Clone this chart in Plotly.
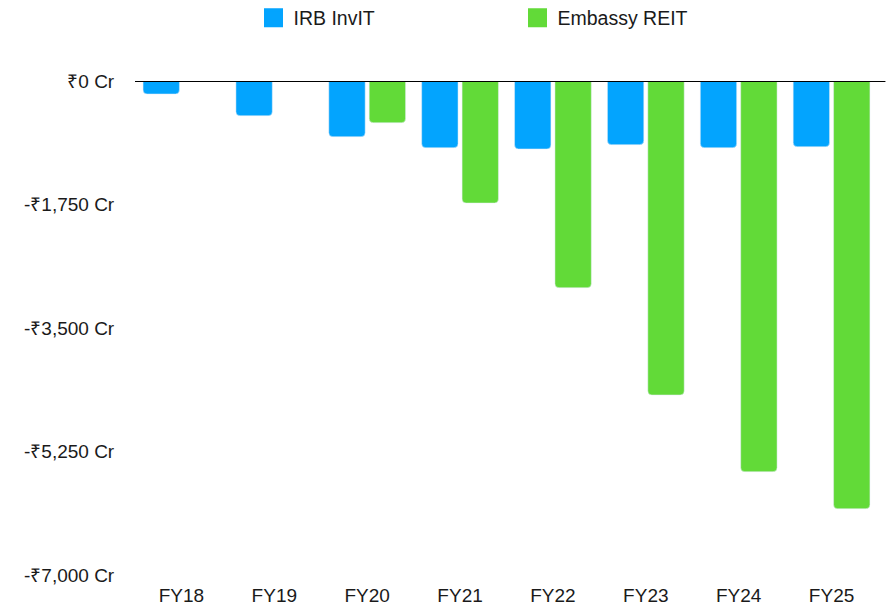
import plotly.graph_objects as go

categories = ["FY18", "FY19", "FY20", "FY21", "FY22", "FY23", "FY24", "FY25"]
irb_invit = [-184, -492, -789, -945, -963, -902, -945, -931]
embassy_reit = [None, None, -591, -1729, -2929, -4449, -5536, -6061]
tick_vals = [0, -1750, -3500, -5250, -7000]
tick_text = ["₹0 Cr", "-₹1,750 Cr", "-₹3,500 Cr", "-₹5,250 Cr", "-₹7,000 Cr"]

BLUE = "#03a4fe"
GREEN = "#62da38"
FONT = "Liberation Sans"
TXT = "#1a1a1a"

W, H = 888, 604

fig = go.Figure()
fig.add_trace(go.Bar(x=categories, y=irb_invit, name="IRB InvIT",
                     marker=dict(color=BLUE, cornerradius=4), showlegend=False))
fig.add_trace(go.Bar(x=categories, y=embassy_reit, name="Embassy REIT",
                     marker=dict(color=GREEN, cornerradius=4), showlegend=False))
# legend entries with large square swatches
fig.add_trace(go.Scatter(x=[None], y=[None], mode="markers", name="IRB InvIT",
                         marker=dict(symbol="square", size=30, color=BLUE,
                                     line=dict(color=BLUE, width=3))))
fig.add_trace(go.Scatter(x=[None], y=[None], mode="markers", name="Embassy REIT",
                         marker=dict(symbol="square", size=30, color=GREEN,
                                     line=dict(color=GREEN, width=3))))

fig.add_shape(type="line", xref="paper", yref="y", x0=0, x1=1.01, y0=0, y1=0,
              line=dict(color="black", width=2))

fig.update_layout(
    width=W, height=H,
    margin=dict(l=126.5, r=17.5, t=73, b=37, autoexpand=False),
    paper_bgcolor="white", plot_bgcolor="white",
    font=dict(family=FONT, size=19, color=TXT),
    barmode="group", bargap=0.13, bargroupgap=0.1,
    showlegend=True,
    legend=dict(orientation="h", x=0.1595, xanchor="left",
                yref="container", y=1 - 10 / H, yanchor="middle",
                entrywidth=219, entrywidthmode="pixels",
                font=dict(family=FONT, size=19.5, color=TXT),
                itemsizing="trace"),
    xaxis=dict(showgrid=False, showline=False, zeroline=False, ticks="outside",
               ticklen=3, tickcolor="rgba(0,0,0,0)",
               tickfont=dict(family=FONT, size=19, color=TXT)),
    yaxis=dict(range=[-7000, 0], tickvals=tick_vals, ticktext=tick_text,
               showgrid=False, zeroline=False, showline=False, ticks="outside",
               ticklen=16, tickcolor="rgba(0,0,0,0)",
               tickfont=dict(family=FONT, size=19, color=TXT)),
)

fig.write_html("out.html")
